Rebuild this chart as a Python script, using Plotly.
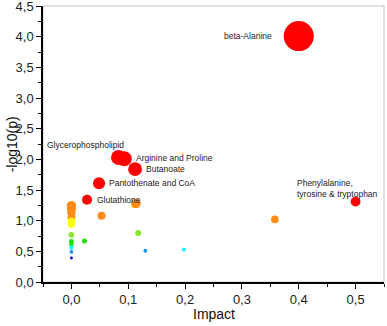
import plotly.graph_objects as go

# pathway impact vs significance
pathways = ["beta-Alanine", "Glycerophospholipid", "Arginine and Proline", "Butanoate",
            "Pantothenate and CoA", "Glutathione", "Phenylalanine,<br>tyrosine & tryptophan",
            "", "", "", "", "", "", "", "", "", "", "", "", "", "", "", "", "", ""]
impact = [0.400, 0.083, 0.093, 0.112, 0.0486, 0.0275, 0.500,
          0.1135, 0.053, 0.358, 0.1175, 0.023, 0.130, 0.198,
          0.0, 0.0, 0.0, 0.0, 0.0, 0.0, 0.0, 0.0, 0.0, 0.0, 0.0, 0.0]
logp = [4.01, 2.03, 2.01, 1.84, 1.61, 1.34, 1.31,
        1.28, 1.08, 1.02, 0.80, 0.67, 0.51, 0.53,
        1.245, 1.19, 1.13, 1.05, 0.99, 0.94, 0.77, 0.66, 0.62, 0.56, 0.49, 0.39]

# label placement (xanchor, xshift, yshift) in px
label_pos = {
    "beta-Alanine": ("right", -25, 0),
    "Glycerophospholipid": ("right", 7, 12),
    "Arginine and Proline": ("left", 10, 1),
    "Butanoate": ("left", 9, 0),
    "Pantothenate and CoA": ("left", 8, 0),
    "Glutathione": ("left", 8, 0),
    "Phenylalanine,<br>tyrosine & tryptophan": ("right", 24, 13),
}

scale = [[0, "#0000FF"], [0.1, "#0000FF"], [0.1, "#1E90FF"], [0.18, "#1E90FF"],
         [0.18, "#00FFFF"], [0.25, "#00FFFF"], [0.25, "#22E000"], [0.4, "#22E000"],
         [0.4, "#8AE62E"], [0.55, "#8AE62E"], [0.55, "#FFFF00"], [0.69, "#FFFF00"],
         [0.69, "#FF8C1A"], [0.985, "#FF8C1A"], [0.985, "#FF0000"], [1, "#FF0000"]]

font = "Liberation Sans, Arial, sans-serif"

fig = go.Figure()
fig.add_trace(go.Scatter(
    x=impact[:len(logp)], y=logp, mode="markers",
    marker=dict(size=logp, sizemode="diameter", sizeref=1/7.5,
                color=logp, colorscale=scale, cmin=0.35, cmax=1.30,
                line=dict(width=0), opacity=1),
    hoverinfo="skip", showlegend=False,
))

for name, xv, yv in zip(pathways, impact, logp):
    if not name:
        continue
    anchor, dx, dy = label_pos[name]
    fig.add_annotation(x=xv, y=yv, text=name, showarrow=False,
                       xanchor=anchor, yanchor="middle", xshift=dx, yshift=dy,
                       align="left", font=dict(family=font, size=8.5, color="#222"))

# axis titles
fig.add_annotation(text="Impact", xref="paper", yref="paper", x=0.5, y=-0.08,
                   xanchor="center", yanchor="top", showarrow=False,
                   font=dict(family=font, size=14, color="#111"))
fig.add_annotation(text="-log10(p)", xref="paper", yref="paper", x=-0.09, y=0.5,
                   xanchor="center", yanchor="middle", textangle=-90, showarrow=False,
                   font=dict(family=font, size=14, color="#111"))

fig.add_shape(type="rect", xref="paper", yref="paper", x0=0, x1=1, y0=0, y1=1,
              line=dict(color="#C4C4C4", width=1), layer="below")

axis_common = dict(showgrid=False, zeroline=False, showline=True, linecolor="black",
                   linewidth=1.5, ticks="outside", ticklen=5, tickwidth=1.2,
                   tickcolor="black", tickformat=".1f", automargin=False,
                   ticklabeloverflow="allow",
                   tickfont=dict(family=font, size=13, color="#222"))

fig.update_xaxes(range=[-0.05, 0.55], dtick=0.1, tick0=0,
                 minor=dict(dtick=0.05, ticks="outside", ticklen=3, tickcolor="black"),
                 **axis_common)
fig.update_yaxes(range=[0, 4.5], dtick=0.5, tick0=0,
                 minor=dict(dtick=0.25, ticks="outside", ticklen=3, tickcolor="black"),
                 **axis_common)

fig.update_layout(width=387, height=326, separators=", ",
                  margin=dict(l=43, r=3, t=6, b=44),
                  plot_bgcolor="white", paper_bgcolor="white")

fig.write_html("out.html", config={"displayModeBar": False},
               post_script="document.body.style.margin='0';")
